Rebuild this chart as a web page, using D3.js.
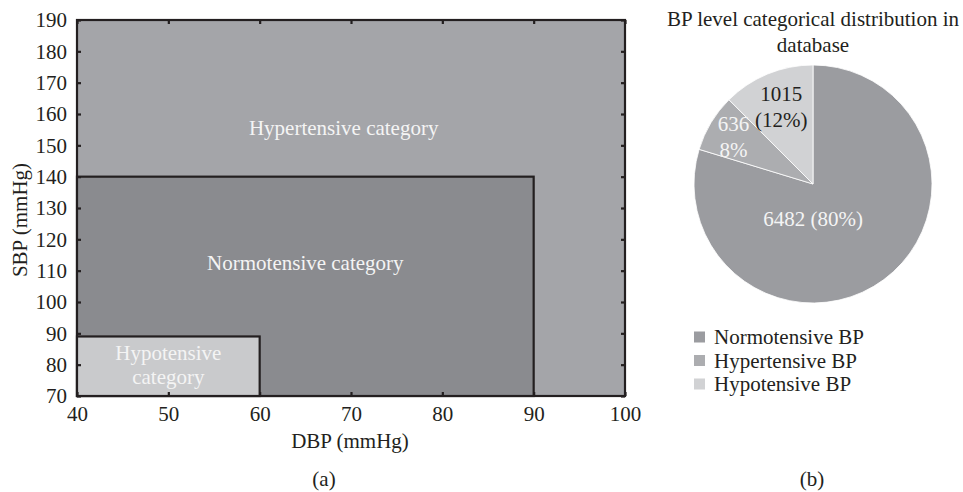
<!DOCTYPE html>
<html>
<head>
<meta charset="utf-8">
<script src="https://cdn.jsdelivr.net/npm/d3@7"></script>
<style>
  body { margin: 0; background: #fff; }
  text { font-family: "Liberation Serif", "DejaVu Serif", serif; }
</style>
</head>
<body>
<div class="container"></div>
<script>
const width = 963, height = 492;
const ink = "#231f20";
const fs = 21;

// (a) BP category regions: [dbpMin, dbpMax], [sbpMin, sbpMax]
const regionNames = ["Hypertensive", "Normotensive", "Hypotensive"];
const regionDbp = [[40, 100], [40, 90], [40, 60]];
const regionSbp = [[70, 190], [70, 140], [70, 89]];
const regionFill = ["#a4a5a9", "#8a8b8f", "#c9cacc"];
const xTicks = [40, 50, 60, 70, 80, 90, 100];
const yTicks = [70, 80, 90, 100, 110, 120, 130, 140, 150, 160, 170, 180, 190];

// (b) pie
const pieLabels = ["Normotensive BP", "Hypertensive BP", "Hypotensive BP"];
const pieCounts = [6482, 636, 1015];
const pieText = [["6482 (80%)"], ["636", "8%"], ["1015", "(12%)"]];
const pieFill = ["#9b9ca0", "#acadb0", "#d1d2d4"];

const svg = d3.select(".container")
  .append("svg")
  .attr("width", width)
  .attr("height", height);

const x = d3.scaleLinear().domain([40, 100]).range([77, 625]);
const y = d3.scaleLinear().domain([70, 190]).range([396, 20]);

const a = svg.append("g");

a.selectAll("rect.region")
  .data(regionNames)
  .join("rect")
  .attr("class", "region")
  .attr("x", (d, i) => x(regionDbp[i][0]))
  .attr("y", (d, i) => y(regionSbp[i][1]))
  .attr("width", (d, i) => x(regionDbp[i][1]) - x(regionDbp[i][0]))
  .attr("height", (d, i) => y(regionSbp[i][0]) - y(regionSbp[i][1]))
  .attr("fill", (d, i) => regionFill[i])
  .attr("stroke", ink)
  .attr("stroke-width", 2.2);

// region captions
const cap = a.append("g").attr("fill", "#f4f4f4").attr("font-size", fs).attr("text-anchor", "middle");
cap.append("text").attr("x", x(69.2)).attr("y", y(155.5)).attr("dy", "0.35em").text("Hypertensive category");
cap.append("text").attr("x", x(65)).attr("y", y(112.5)).attr("dy", "0.35em").text("Normotensive category");
cap.append("text").attr("x", x(50)).attr("y", y(83.7)).attr("dy", "0.35em").text("Hypotensive");
cap.append("text").attr("x", x(50)).attr("y", y(76.1)).attr("dy", "0.35em").text("category");

// axes, ticks mirrored inward
const tickStyle = g => {
  g.select(".domain").remove();
  g.selectAll(".tick line").attr("stroke", ink).attr("stroke-width", 2.2);
  g.selectAll(".tick text").attr("fill", ink).attr("font-size", fs)
    .attr("font-family", "Liberation Serif, DejaVu Serif, serif");
};
a.append("g").attr("transform", `translate(0,${y(70)})`)
  .call(d3.axisBottom(x).tickValues(xTicks).tickSize(-4).tickPadding(10))
  .call(tickStyle);
a.append("g").attr("transform", `translate(0,${y(190)})`)
  .call(d3.axisTop(x).tickValues(xTicks).tickSize(-4).tickFormat(""))
  .call(tickStyle);
a.append("g").attr("transform", `translate(${x(40)},0)`)
  .call(d3.axisLeft(y).tickValues(yTicks).tickSize(-4).tickPadding(10))
  .call(tickStyle);
a.append("g").attr("transform", `translate(${x(100)},0)`)
  .call(d3.axisRight(y).tickValues(yTicks).tickSize(-4).tickFormat(""))
  .call(tickStyle);

a.append("text").attr("x", 350).attr("y", 441).attr("dy", "0.35em")
  .attr("text-anchor", "middle").attr("fill", ink).attr("font-size", fs).text("DBP (mmHg)");
a.append("text").attr("transform", `translate(20,220) rotate(-90)`)
  .attr("dy", "0.35em").attr("text-anchor", "middle").attr("fill", ink).attr("font-size", fs)
  .text("SBP (mmHg)");
a.append("text").attr("x", 324).attr("y", 479).attr("dy", "0.35em")
  .attr("text-anchor", "middle").attr("fill", ink).attr("font-size", fs).text("(a)");

// (b) pie chart
const cx = 813, cy = 184, r = 119;
const b = svg.append("g");

b.append("text").attr("x", cx).attr("y", 19).attr("dy", "0.35em").attr("text-anchor", "middle")
  .attr("fill", ink).attr("font-size", fs).text("BP level categorical distribution in");
b.append("text").attr("x", cx).attr("y", 45).attr("dy", "0.35em").attr("text-anchor", "middle")
  .attr("fill", ink).attr("font-size", fs).text("database");

const pie = d3.pie().sort(null).value(d => d);
const arcs = pie(pieCounts);
const arc = d3.arc().innerRadius(0).outerRadius(r);

const pg = b.append("g").attr("transform", `translate(${cx},${cy})`);
pg.selectAll("path")
  .data(arcs)
  .join("path")
  .attr("d", arc)
  .attr("fill", (d, i) => pieFill[i])
  .attr("stroke", "#ffffff")
  .attr("stroke-width", 0.8);

// label anchors: radius fraction and angle (null = slice mid-angle)
const labelR = [0.29, 0.78, 0.70];
const labelAngle = [Math.PI, null, null];
const labelColor = ["#f4f4f4", "#f4f4f4", ink];
arcs.forEach((d, i) => {
  const mid = labelAngle[i] ?? (d.startAngle + d.endAngle) / 2;
  const lr = r * labelR[i];
  const lx = Math.sin(mid) * lr, ly = -Math.cos(mid) * lr;
  const lines = pieText[i];
  const t = pg.append("text").attr("text-anchor", "middle").attr("fill", labelColor[i]).attr("font-size", fs);
  lines.forEach((s, k) => {
    t.append("tspan").attr("x", lx).attr("y", ly + (k - (lines.length - 1) / 2) * 26).attr("dy", "0.35em").text(s);
  });
});

// legend
const lg = b.append("g").attr("transform", "translate(694,337)");
const row = lg.selectAll("g").data(pieLabels).join("g")
  .attr("transform", (d, i) => `translate(0,${i * 23.5})`);
row.append("rect").attr("x", 0).attr("y", -5.5).attr("width", 11).attr("height", 11)
  .attr("fill", (d, i) => pieFill[i]);
row.append("text").attr("x", 20).attr("y", 0).attr("dy", "0.35em")
  .attr("fill", ink).attr("font-size", fs).text(d => d);

b.append("text").attr("x", 812).attr("y", 479).attr("dy", "0.35em").attr("text-anchor", "middle")
  .attr("fill", ink).attr("font-size", fs).text("(b)");
</script>
</body>
</html>
